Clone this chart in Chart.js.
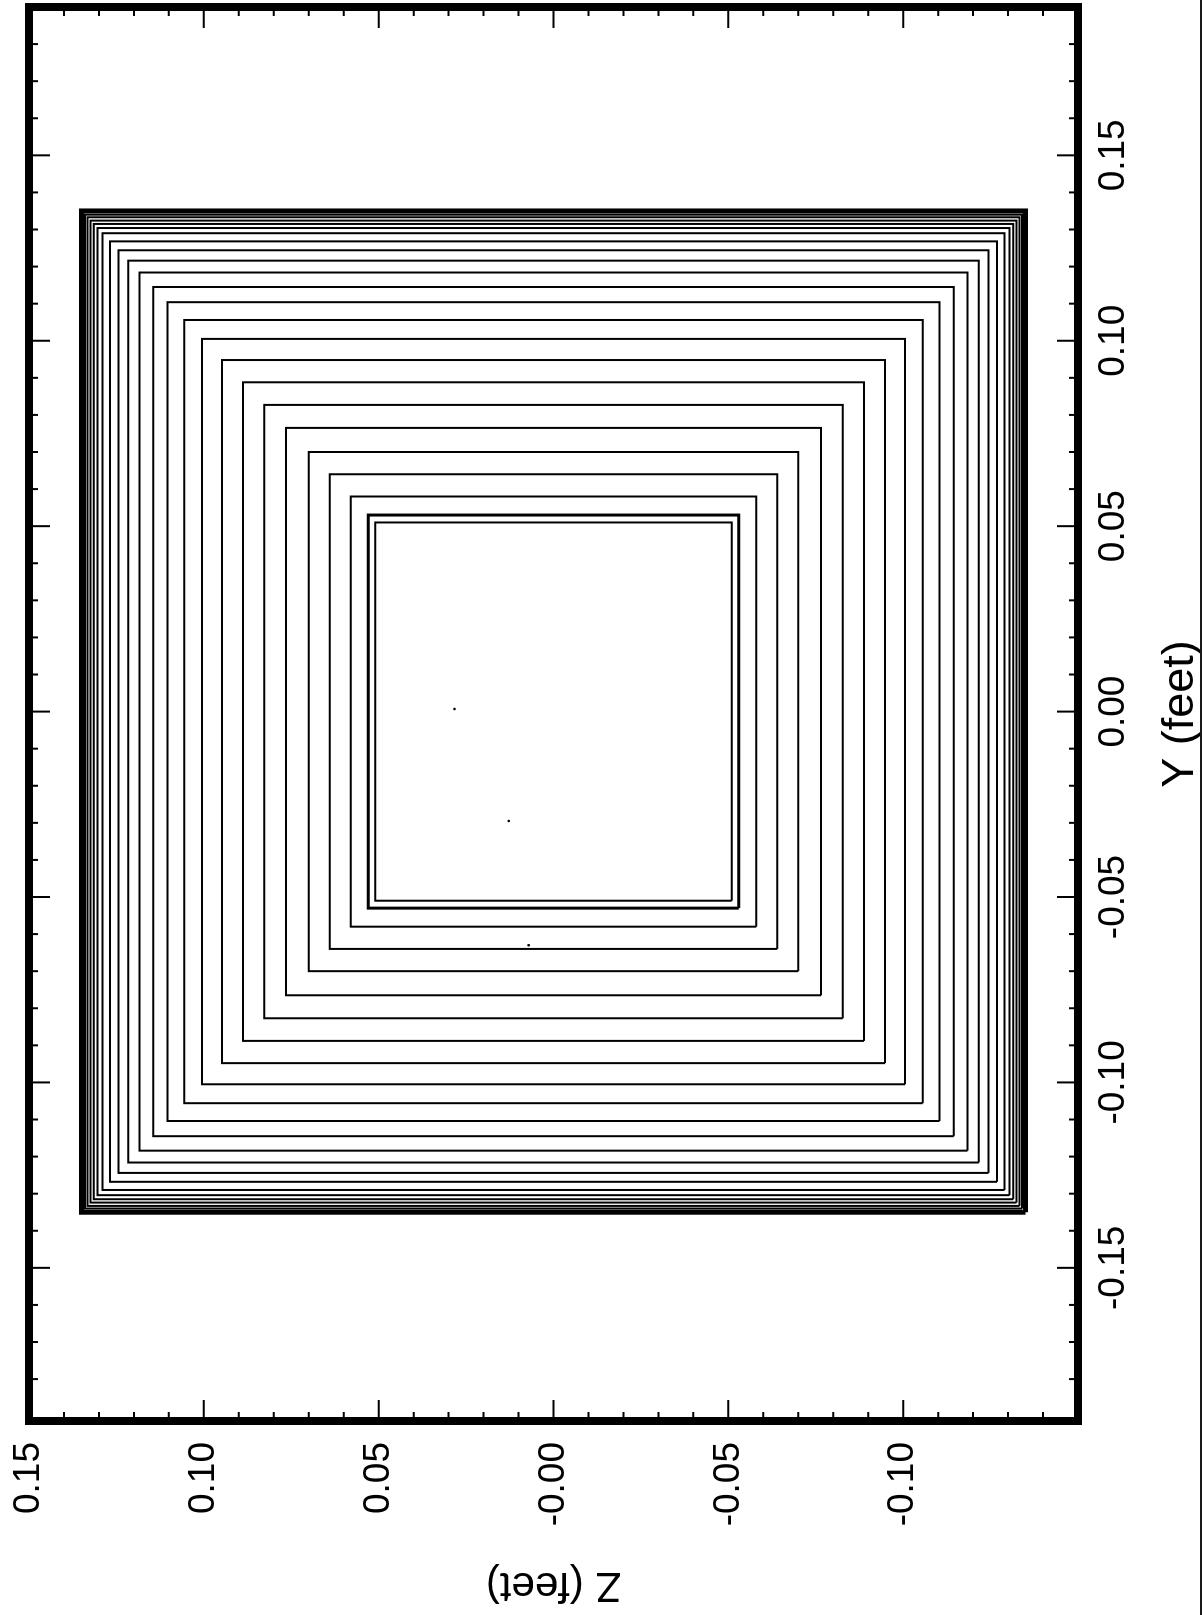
<!DOCTYPE html>
<html>
<head>
<meta charset="utf-8">
<script src="https://cdn.jsdelivr.net/npm/chart.js@4/dist/chart.umd.min.js"></script>
<style>
    html, body {
        margin: 0;
        padding: 0;
        background: #ffffff;
        overflow: hidden;
    }
    #page {
        position: relative;
        width: 1203px;
        height: 1615px;
    }
    /* plot is laid out landscape and turned a quarter turn counter-clockwise */
    #chart {
        position: absolute;
        left: 0;
        top: 0;
        transform-origin: 0 0;
        transform: translateY(1615px) rotate(-90deg);
    }
    #edge {
        position: absolute;
        left: 1200px;
        top: 0;
        width: 2px;
        height: 1615px;
        background: #1a1a1a;
    }
</style>
</head>
<body>
<div id="page">
    <canvas id="chart" width="1615" height="1203"></canvas>
    <div id="edge"></div>
</div>
<script>
/* global Chart */

const INK = "#000000",
    FONT_FAMILY = "'Liberation Sans', Arial, Helvetica, sans-serif",
    LABEL_X_AXIS = "Y (feet)",
    LABEL_Y_AXIS = "Z (feet)";

// axis limits (feet)
const Y_MIN = -0.1913,
    Y_MAX = 0.19,
    Z_MIN = -0.15,
    Z_MAX = 0.15;

// labelled ticks
const Y_TICKS = [-0.15, -0.10, -0.05, 0.00, 0.05, 0.10, 0.15];
const Y_TICK_LABELS = ["-0.15", "-0.10", "-0.05", "0.00", "0.05", "0.10", "0.15"];
const Z_TICKS = [-0.10, -0.05, 0.00, 0.05, 0.10, 0.15];
const Z_TICK_LABELS = ["-0.10", "-0.05", "-0.00", "0.05", "0.10", "0.15"];

// half-width of each square contour, innermost first (feet)
const CONTOUR_HALF_WIDTHS = [
    0.0510, 0.0530, 0.0580, 0.0640, 0.0700, 0.0765, 0.0827, 0.0888,
    0.0948, 0.1005, 0.1056, 0.1104, 0.1145, 0.1184, 0.1216, 0.1244,
    0.1268, 0.1290, 0.1304, 0.1315, 0.1324, 0.1333, 0.1340, 0.1350,
];

// isolated points inside the innermost contour
const SPECK_Y = [0.0007, -0.0295, -0.0630];
const SPECK_Z = [0.0283, 0.0128, 0.0071];

function labelFor(value, ticks, labels) {
    for (let i = 0; i < ticks.length; i++) {
        if (Math.abs(ticks[i] - value) < 1e-6) {
            return labels[i];
        }
    }
    return "";
}

function isMajor(value) {
    const hundredths = value * 100;
    return Math.abs(hundredths - Math.round(hundredths)) < 1e-6 && Math.round(hundredths) % 5 === 0;
}

function squarePoints(h) {
    return [
        {x: -h, y: -h},
        {x: h, y: -h},
        {x: h, y: h},
        {x: -h, y: h},
        {x: -h, y: -h},
    ];
}

function createDataSets() {
    let datasets = [];
    const last = CONTOUR_HALF_WIDTHS.length - 1;
    for (let i = 0; i < CONTOUR_HALF_WIDTHS.length; i++) {
        let width = 2;
        if (i === 1) {
            width = 3;
        } else if (i === last) {
            width = 5;
        }
        datasets.push({
            data: squarePoints(CONTOUR_HALF_WIDTHS[i]),
            showLine: true,
            borderColor: INK,
            borderWidth: width,
            pointRadius: 0,
            tension: 0,
        });
    }
    let specks = [];
    for (let i = 0; i < SPECK_Y.length; i++) {
        specks.push({x: SPECK_Y[i], y: SPECK_Z[i]});
    }
    datasets.push({
        data: specks,
        showLine: false,
        pointRadius: 1.3,
        pointBorderWidth: 0,
        backgroundColor: INK,
    });
    return datasets;
}

// heavy frame with inward ticks on all four sides
const frameTicks = {
    id: "frameTicks",
    afterDraw(chart) {
        const ctx = chart.ctx,
            area = chart.chartArea,
            x = chart.scales.x,
            y = chart.scales.y;
        ctx.save();
        ctx.strokeStyle = INK;
        ctx.lineWidth = 2;
        ctx.beginPath();
        x.ticks.forEach((t) => {
            const px = x.getPixelForValue(t.value),
                len = isMajor(t.value) ? 21 : 9;
            ctx.moveTo(px, area.bottom);
            ctx.lineTo(px, area.bottom - len);
            ctx.moveTo(px, area.top);
            ctx.lineTo(px, area.top + len);
        });
        y.ticks.forEach((t) => {
            const py = y.getPixelForValue(t.value),
                len = isMajor(t.value) ? 21 : 9;
            ctx.moveTo(area.left, py);
            ctx.lineTo(area.left + len, py);
            ctx.moveTo(area.right, py);
            ctx.lineTo(area.right - len, py);
        });
        ctx.stroke();
        ctx.lineWidth = 8;
        ctx.strokeRect(area.left, area.top, area.right - area.left, area.bottom - area.top);
        ctx.restore();
    },
};

// edge labels may overhang the plot area; keep the frame where the layout puts it
function dropLabelOverhang(scale) {
    scale.paddingTop = 0;
    scale.paddingBottom = 0;
    scale.paddingLeft = 0;
    scale.paddingRight = 0;
}

function createChart(context) {
    return new Chart(context, {
        type: "scatter",
        data: {
            datasets: createDataSets(),
        },
        options: {
            responsive: false,
            animation: false,
            layout: {
                padding: {top: 29, right: 7, left: 0, bottom: 0},
            },
            plugins: {
                legend: {display: false},
                tooltip: {enabled: false},
            },
            scales: {
                x: {
                    type: "linear",
                    position: "bottom",
                    min: Y_MIN,
                    max: Y_MAX,
                    grid: {display: false, drawTicks: false},
                    border: {display: false},
                    ticks: {
                        stepSize: 0.01,
                        autoSkip: false,
                        maxRotation: 0,
                        minRotation: 0,
                        padding: 14,
                        color: INK,
                        font: {family: FONT_FAMILY, size: 37},
                        callback: (value) => labelFor(value, Y_TICKS, Y_TICK_LABELS),
                    },
                    title: {
                        display: true,
                        text: LABEL_X_AXIS,
                        color: INK,
                        font: {family: FONT_FAMILY, size: 45, lineHeight: 1},
                        padding: {top: 0, bottom: 0},
                    },
                    afterFit: (scale) => {
                        scale.height = 125;
                        dropLabelOverhang(scale);
                    },
                },
                y: {
                    type: "linear",
                    position: "left",
                    min: Z_MIN,
                    max: Z_MAX,
                    grid: {display: false, drawTicks: false},
                    border: {display: false},
                    ticks: {
                        stepSize: 0.01,
                        autoSkip: false,
                        padding: 21,
                        color: INK,
                        font: {family: FONT_FAMILY, size: 37},
                        callback: (value) => labelFor(value, Z_TICKS, Z_TICK_LABELS),
                    },
                    title: {
                        display: true,
                        text: LABEL_Y_AXIS,
                        color: INK,
                        font: {family: FONT_FAMILY, size: 42, lineHeight: 1},
                        padding: {top: 9, bottom: 0},
                    },
                    afterFit: (scale) => {
                        scale.width = 194;
                        dropLabelOverhang(scale);
                    },
                },
            },
        },
        plugins: [frameTicks],
    });
}

createChart(document.getElementById("chart").getContext("2d"));
</script>
</body>
</html>
